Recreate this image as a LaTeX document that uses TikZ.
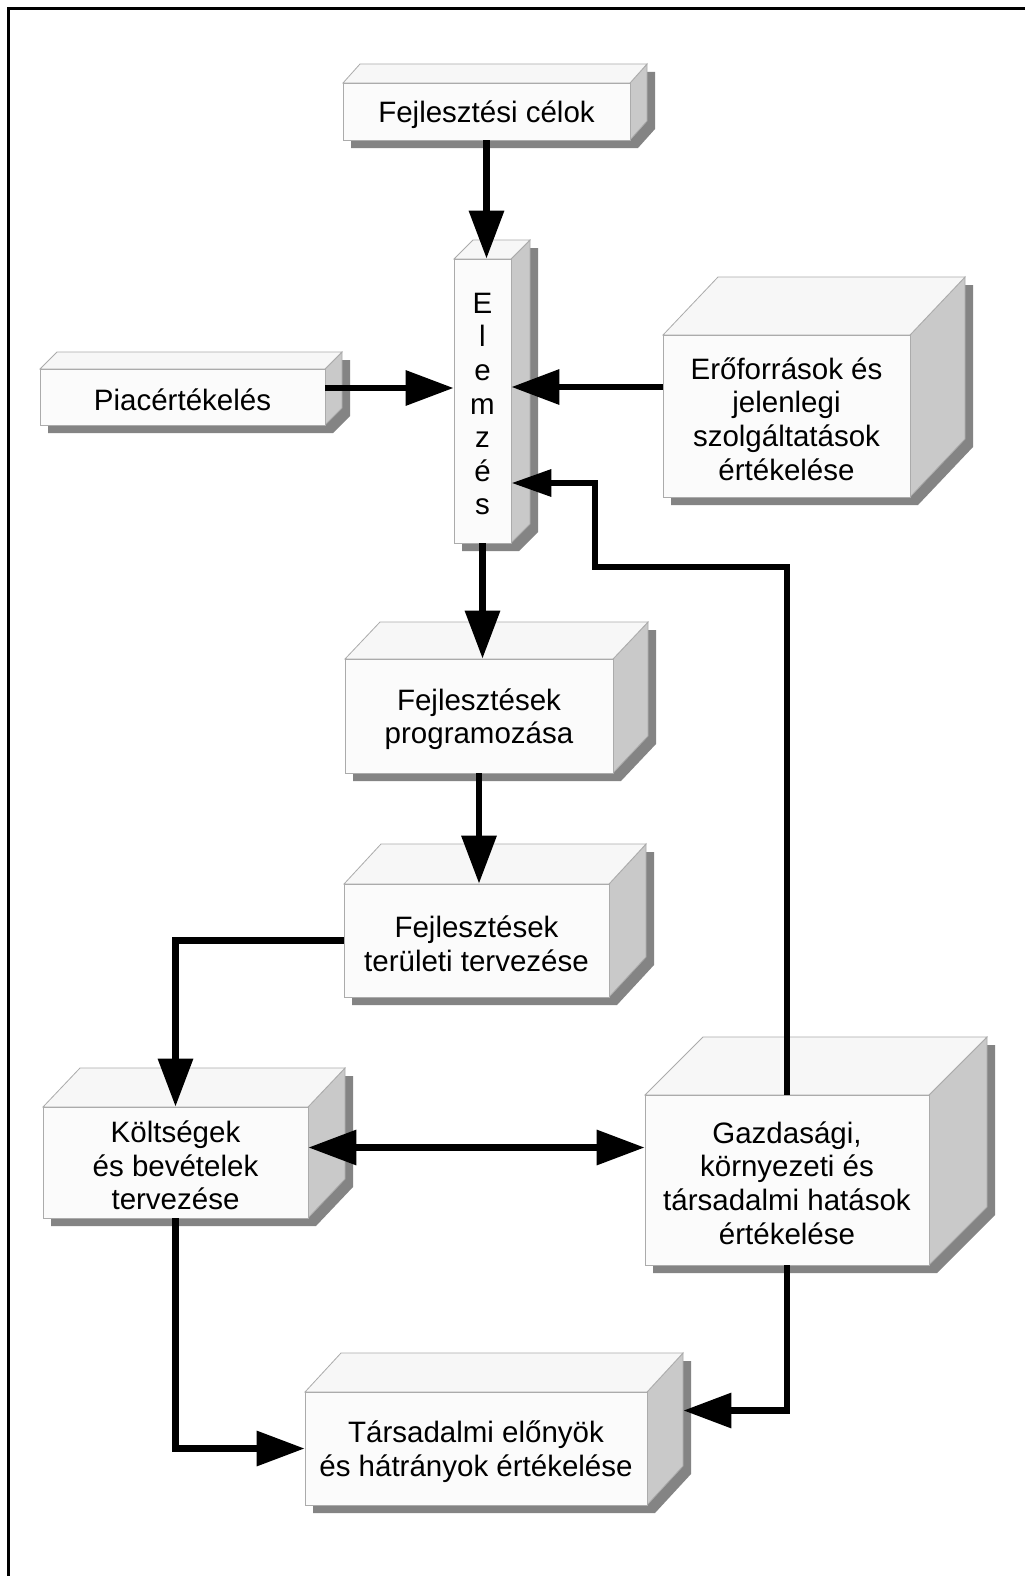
\documentclass[tikz,border=0pt]{standalone}
\usepackage{fontspec}
\setmainfont{Liberation Sans}
\usetikzlibrary{arrows.meta,calc}

\definecolor{frontc}{HTML}{FBFBFB}
\definecolor{topc}{HTML}{F7F7F7}
\definecolor{sidec}{HTML}{C9C9C9}
\definecolor{edgec}{HTML}{ABABAB}
\definecolor{shadowc}{HTML}{848484}

% A 3-D block: name, x1, y1, x2, y2 (front face), depth dx, depth dy, text
\newcommand\drawblock[8]{%
  \pgfmathsetmacro\bw{#4-#2}%
  \pgfmathsetmacro\bh{#5-#3}%
  \fill[blockshadow] (#2+8,#5+8) -- (#2+8,#3+8) -- (#2+#6+8,#3-#7+8)
    -- (#4+#6+8,#3-#7+8) -- (#4+#6+8,#5-#7+8) -- (#4+8,#5+8) -- cycle;
  \filldraw[blockside] (#4,#3) -- (#4+#6,#3-#7) -- (#4+#6,#5-#7) -- (#4,#5) -- cycle;
  \filldraw[blocktop] (#2,#3) -- (#2+#6,#3-#7) -- (#4+#6,#3-#7) -- (#4,#3) -- cycle;
  \node[blockfront, minimum width=\bw pt, minimum height=\bh pt]
    (#1) at ({(#2+#4)/2},{(#3+#5)/2}) {};
  \node[blocktext] (#1-text) at ([yshift=-3pt]#1.center) {#8};
}

\begin{document}
\begin{tikzpicture}[x=1pt,y=-1pt,
  blockshadow/.style={fill=shadowc},
  blockside/.style={fill=sidec, draw=edgec, line width=0.8pt},
  blocktop/.style={fill=topc, draw=edgec, line width=0.8pt},
  blockfront/.style={rectangle, fill=frontc, draw=edgec, line width=0.8pt,
    inner sep=0pt},
  blocktext/.style={inner sep=0pt, align=center,
    font=\fontsize{29.5}{33.6}\selectfont},
  conn/.style={line width=6.5pt, line join=miter, black,
    -{Triangle[length=48pt, width=34pt]}},
  connsmall/.style={line width=6.5pt, line join=miter, black,
    -{Triangle[length=40pt, width=26pt]}},
  conntwo/.style={line width=6.5pt, black,
    {Triangle[length=48pt, width=34pt]}-{Triangle[length=48pt, width=34pt]}}]

\useasboundingbox (0,0) rectangle (1025,1576);
\fill[white] (0,0) rectangle (1025,1576);

% page frame
\draw[line width=2.6pt, black] (8.3,1576) -- (8.3,8.3) -- (1025,8.3);

% blocks
\drawblock{celok}{343}{83}{630}{140}{17}{19}{Fejlesztési célok}
\drawblock{elemzes}{454}{259}{511}{543}{19}{19}{E\\l\\e\\m\\z\\é\\s}
\drawblock{piac}{40}{369}{325}{425}{17}{17}{Piacértékelés}
\drawblock{ero}{663}{335}{910}{497}{55}{58}{Erőforrások és\\jelenlegi\\szolgáltatások\\értékelése}
\drawblock{prog}{345}{659}{613}{773}{35}{37}{Fejlesztések\\programozása}
\drawblock{terv}{344}{884}{609}{997}{37}{40}{Fejlesztések\\területi tervezése}
\drawblock{kolt}{43}{1107}{308}{1218}{37}{39}{Költségek\\és bevételek\\tervezése}
\drawblock{gazd}{645}{1095}{929}{1265}{58}{58}{Gazdasági,\\környezeti és\\társadalmi hatások\\értékelése}
\drawblock{tars}{305}{1392}{647}{1505}{36}{39}{Társadalmi előnyök\\és hátrányok értékelése}

% connector end points
\coordinate (piacout) at ([yshift=9pt]piac.east);
\coordinate (eroout) at ([yshift=29pt]ero.west);
\coordinate (kgline) at ([yshift=15pt]kolt.east);
\coordinate (fb1) at (595,567);
\coordinate (fb2) at (595,483);
\coordinate (tarsin) at ([shift={(36,-38)}]tars.east);

% connectors
\draw[conn] (celok.south) -- (celok.south |- elemzes.north);
\draw[conn] (piacout) -- (piacout -| elemzes.west);
\draw[conn] (eroout) -- (eroout -| elemzes.east);
\draw[conn] (elemzes.south) -- (elemzes.south |- prog.north);
\draw[conn] (prog.south) -- (prog.south |- terv.north);
\draw[conn] (terv.west) -| (kolt.north);
\draw[conntwo] (kgline) -- (kgline -| gazd.west);
\draw[conn] (kolt.south) |- (tars.west);
\draw[conn] (gazd.south) |- (tarsin);
\draw[connsmall] (gazd.north) |- (fb1) -- (fb2) -- (fb2 -| elemzes.east);

\end{tikzpicture}
\end{document}
